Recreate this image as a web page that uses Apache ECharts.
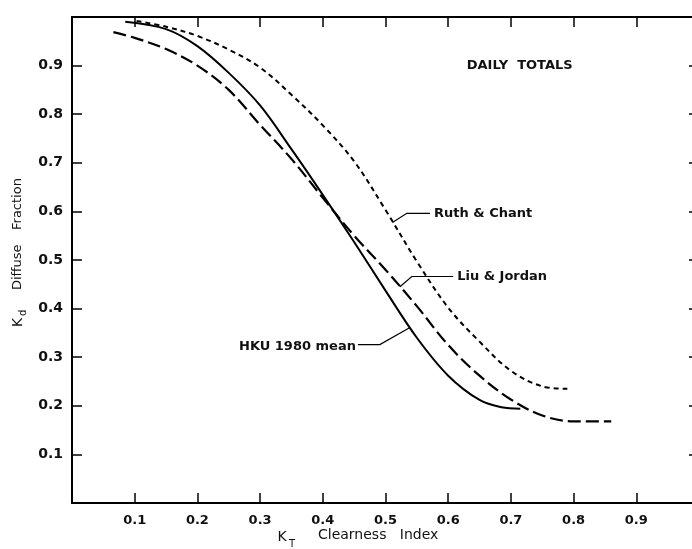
<!DOCTYPE html>
<html>
<head>
<meta charset="utf-8">
<script src="https://cdn.jsdelivr.net/npm/echarts@6/dist/echarts.min.js"></script>
<style>
html, body { margin: 0; padding: 0; background: #fff; }
#chart { width: 692px; height: 549px; }
</style>
</head>
<body>
<div id="chart"></div>
<script>
// HKU 1980 mean (solid)
const hkuX = [0.085, 0.15, 0.2, 0.25, 0.3, 0.35, 0.4, 0.45, 0.5, 0.55, 0.6, 0.65, 0.685, 0.715];
const hkuY = [0.99, 0.975, 0.94, 0.885, 0.818, 0.728, 0.634, 0.537, 0.437, 0.34, 0.262, 0.212, 0.197, 0.194];
// Liu & Jordan (long dash)
const ljX = [0.066, 0.1, 0.15, 0.2, 0.25, 0.3, 0.35, 0.4, 0.45, 0.5, 0.55, 0.6, 0.65, 0.7, 0.75, 0.8, 0.86];
const ljY = [0.969, 0.957, 0.934, 0.9, 0.85, 0.778, 0.708, 0.628, 0.55, 0.48, 0.405, 0.325, 0.262, 0.213, 0.18, 0.168, 0.168];
// Ruth & Chant (short dash)
const rcX = [0.103, 0.15, 0.2, 0.25, 0.3, 0.35, 0.4, 0.45, 0.5, 0.55, 0.6, 0.65, 0.7, 0.75, 0.79];
const rcY = [0.992, 0.98, 0.961, 0.933, 0.896, 0.84, 0.777, 0.703, 0.603, 0.497, 0.402, 0.332, 0.272, 0.24, 0.235];

// annotation anchors in data units: [curve point, elbow, end of leader]
const rcLeader = [[0.511, 0.577], [0.534, 0.596], [0.571, 0.596]];
const ljLeader = [[0.523, 0.445], [0.542, 0.466], [0.608, 0.466]];
const hkuLeader = [[0.539, 0.361], [0.491, 0.326], [0.456, 0.326]];
const titlePos = [0.714, 0.899];

const font = "DejaVu Sans";
const zip = (xs, ys) => xs.map((x, i) => [x, ys[i]]);

let chart = echarts.init(document.getElementById("chart"));

let axisLine = { show: true, onZero: false, lineStyle: { color: "#000", width: 2 } };
let axisTick = { show: true, inside: true, length: 10, lineStyle: { color: "#000", width: 1.5 } };
let tickFmt = (v) => (v > 0.001 && v < 0.999 ? v.toFixed(1) : "");

let option = {
  animation: false,
  backgroundColor: "#fff",
  grid: { left: 72, top: 17, width: 627, height: 486, outerBoundsMode: "none", containLabel: false },
  xAxis: [
    {
      type: "value", position: "bottom", min: 0, max: 1, interval: 0.1,
      axisLine, axisTick,
      axisLabel: { margin: 11, fontSize: 13, fontWeight: "bold", fontFamily: font, color: "#111", formatter: tickFmt },
      splitLine: { show: false },
    },
    {
      type: "value", position: "top", min: 0, max: 1, interval: 0.1,
      axisLine, axisTick, axisLabel: { show: false }, splitLine: { show: false },
    },
  ],
  yAxis: [
    {
      type: "value", position: "left", min: 0, max: 1, interval: 0.1,
      axisLine, axisTick,
      axisLabel: { margin: 9, fontSize: 14, fontWeight: "bold", fontFamily: font, color: "#111", formatter: tickFmt },
      splitLine: { show: false },
    },
    {
      type: "value", position: "right", min: 0, max: 1, interval: 0.1,
      axisLine, axisTick, axisLabel: { show: false }, splitLine: { show: false },
    },
  ],
  series: [
    {
      name: "HKU 1980 mean", type: "line", smooth: 0.35, showSymbol: false,
      data: zip(hkuX, hkuY),
      lineStyle: { color: "#000", width: 2 },
    },
    {
      name: "Liu & Jordan", type: "line", smooth: 0.35, showSymbol: false,
      data: zip(ljX, ljY),
      lineStyle: { color: "#000", width: 2.2, type: [13, 5] },
    },
    {
      name: "Ruth & Chant", type: "line", smooth: 0.35, showSymbol: false,
      data: zip(rcX, rcY),
      lineStyle: { color: "#000", width: 2, type: [5, 4] },
    },
  ],
};
chart.setOption(option);

// turn data anchors into pixels for the labels
const px = (p) => chart.convertToPixel({ gridIndex: 0 }, p);
const leader = (pts) => ({
  type: "polyline", silent: true,
  shape: { points: pts.map(px) },
  style: { stroke: "#000", lineWidth: 1.2, fill: null },
});
const txt = (text, p, align, size, weight) => ({
  type: "text", silent: true, x: p[0], y: p[1],
  style: {
    text, fill: "#111", textAlign: align, textVerticalAlign: "middle",
    font: `${weight || "bold"} ${size || 13}px "${font}"`,
  },
});

let rcEnd = px(rcLeader[2]);
let ljEnd = px(ljLeader[2]);
let hkuEnd = px(hkuLeader[2]);

chart.setOption({
  graphic: [
    leader(rcLeader),
    leader(ljLeader),
    leader(hkuLeader),
    txt("Ruth & Chant", [rcEnd[0] + 4, rcEnd[1]], "left"),
    txt("Liu & Jordan", [ljEnd[0] + 4, ljEnd[1]], "left"),
    txt("HKU 1980 mean", [hkuEnd[0] - 2, hkuEnd[1] + 2], "right"),
    txt("DAILY  TOTALS", px(titlePos), "center"),
    // x axis name
    txt("K", [282, 537], "center", 14, "normal"),
    txt("T", [292, 544], "center", 10, "normal"),
    txt("Clearness   Index", [318, 535], "left", 14, "normal"),
    // y axis name, rotated
    {
      type: "group", x: 18, y: 327, rotation: Math.PI / 2,
      children: [
        txt("K", [0, 0], "left", 14, "normal"),
        txt("d", [11, 5], "left", 10, "normal"),
        txt("Diffuse", [37, 0], "left", 13, "normal"),
        txt("Fraction", [97, 0], "left", 13, "normal"),
      ],
    },
  ],
});

window.addEventListener("resize", () => {
  chart.resize();
});
</script>
</body>
</html>
